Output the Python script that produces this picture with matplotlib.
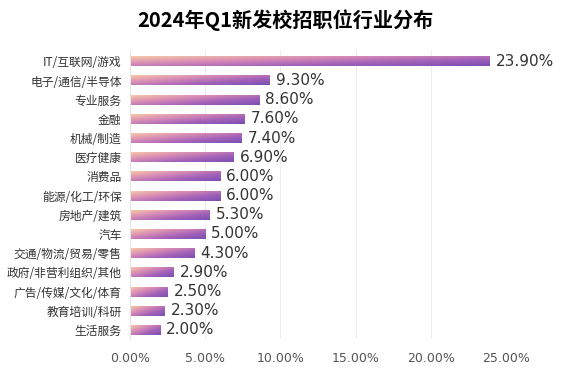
import numpy as np
import matplotlib.pyplot as plt
from matplotlib.colors import LinearSegmentedColormap

plt.rcParams['font.family'] = ['Noto Sans CJK SC', 'DejaVu Sans']

title = '2024年Q1新发校招职位行业分布'
industries = ['IT/互联网/游戏', '电子/通信/半导体', '专业服务', '金融', '机械/制造',
              '医疗健康', '消费品', '能源/化工/环保', '房地产/建筑', '汽车',
              '交通/物流/贸易/零售', '政府/非营利组织/其他', '广告/传媒/文化/体育',
              '教育培训/科研', '生活服务']
shares = [23.9, 9.3, 8.6, 7.6, 7.4, 6.9, 6.0, 6.0, 5.3, 5.0, 4.3, 2.9, 2.5, 2.3, 2.0]
xticks = [0, 5, 10, 15, 20, 25]

cmap = LinearSegmentedColormap.from_list('bar', ['#f6c8a6', '#d98db5', '#a462b8', '#7a4fb4'])

fig = plt.figure(figsize=(5.7, 3.69), dpi=100)
ax = fig.add_axes([0.228, 0.08, 0.66, 0.785])

y = np.arange(len(industries))
bars = ax.barh(y, shares, height=0.52, color='none')

# gradient fill for each bar
for b in bars:
    x0, y0 = b.get_x(), b.get_y()
    w, h = b.get_width(), b.get_height()
    xs = np.linspace(0, 1, 200)[None, :]
    ys = np.linspace(0, 1, 20)[:, None]
    grad = 0.55 * xs + 0.45 * ys
    ax.imshow(grad, cmap=cmap, aspect='auto', extent=(x0, x0 + w, y0 + h, y0),
              origin='upper', vmin=0, vmax=1, zorder=2)
    ax.text(x0 + w + 0.4, y0 + h / 2, f'{w:.2f}%', va='center', ha='left',
            fontsize=11, color='#333333', family=['DejaVu Sans'])

ax.set_yticks(y)
ax.set_yticklabels(industries, fontsize=8.5, color='#333333')
ax.set_ylim(len(industries) - 0.5, -0.6)
ax.set_xlim(0, 25)
ax.set_xticks(xticks)
ax.set_xticklabels([f'{v:.2f}%' for v in xticks], fontsize=9, color='#555555',
                   family=['DejaVu Sans'])
ax.tick_params(length=0, pad=6)
ax.tick_params(axis='x', pad=9)
ax.grid(axis='x', color='#eeeeee', linewidth=0.8, zorder=0)
ax.set_axisbelow(True)
for s in ['top', 'right', 'bottom']:
    ax.spines[s].set_visible(False)
ax.spines['left'].set_color('#e6e6e6')

fig.suptitle(title, x=0.5, y=0.975, fontsize=14.5, fontweight='black', va='top')

fig.savefig('out.png', dpi=100)
